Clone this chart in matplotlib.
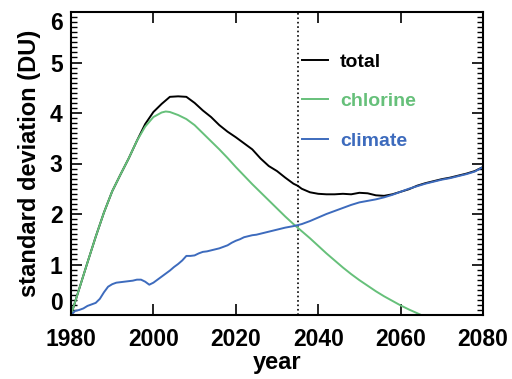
import matplotlib
matplotlib.use('Agg')
import matplotlib.pyplot as plt
from matplotlib.ticker import MultipleLocator
import numpy as np

plt.rcParams['font.family'] = ['Liberation Sans', 'DejaVu Sans']
plt.rcParams['font.weight'] = 'bold'

# chlorine contribution (also the total before ~1997)
chl_year = [1980, 1982, 1984, 1986, 1988, 1990, 1992, 1994, 1996, 1998,
            2000, 2002, 2003, 2004, 2006, 2008, 2010, 2012, 2014, 2016,
            2018, 2020, 2022, 2024, 2026, 2028, 2030, 2032, 2034, 2036,
            2038, 2040, 2042, 2044, 2046, 2048, 2050, 2052, 2054, 2056,
            2058, 2060, 2062, 2065]
chl_val = [0.0, 0.52, 1.04, 1.55, 2.03, 2.45, 2.78, 3.10, 3.45, 3.73,
           3.92, 4.01, 4.03, 4.02, 3.96, 3.88, 3.76, 3.60, 3.44, 3.28,
           3.11, 2.93, 2.76, 2.59, 2.43, 2.27, 2.11, 1.95, 1.80, 1.66,
           1.52, 1.37, 1.22, 1.08, 0.94, 0.81, 0.69, 0.58, 0.47, 0.37,
           0.28, 0.19, 0.11, 0.0]

# climate contribution
clim_year = [1980, 1981, 1982, 1983, 1984, 1985, 1986, 1987, 1988, 1989,
             1990, 1991, 1992, 1993, 1994, 1995, 1996, 1997, 1998, 1999,
             2000, 2001, 2002, 2003, 2004, 2005, 2006, 2007, 2008, 2009,
             2010, 2011, 2012, 2013, 2014, 2015, 2016, 2017, 2018, 2019,
             2020, 2021, 2022, 2023, 2024, 2025, 2026, 2028, 2030, 2032,
             2034, 2035, 2036, 2038, 2040, 2042, 2044, 2046, 2048, 2050,
             2052, 2054, 2056, 2058, 2060, 2062, 2064, 2066, 2068, 2070,
             2072, 2074, 2076, 2078, 2080]
clim_val = [0.0, 0.08, 0.10, 0.13, 0.18, 0.21, 0.24, 0.32, 0.45, 0.56,
            0.61, 0.64, 0.65, 0.66, 0.67, 0.68, 0.70, 0.70, 0.66, 0.60,
            0.64, 0.70, 0.76, 0.82, 0.88, 0.95, 1.01, 1.08, 1.17, 1.17,
            1.18, 1.22, 1.25, 1.26, 1.28, 1.30, 1.32, 1.35, 1.38, 1.43,
            1.47, 1.50, 1.54, 1.56, 1.58, 1.59, 1.61, 1.65, 1.69, 1.73,
            1.76, 1.78, 1.80, 1.86, 1.93, 2.00, 2.06, 2.12, 2.18, 2.23,
            2.26, 2.29, 2.33, 2.38, 2.44, 2.50, 2.55, 2.60, 2.64, 2.68,
            2.71, 2.75, 2.79, 2.84, 2.93]

# total
tot_year = [1980, 1982, 1984, 1986, 1988, 1990, 1992, 1994, 1996, 1998,
            2000, 2002, 2004, 2006, 2008, 2010, 2012, 2014, 2016, 2018,
            2020, 2022, 2024, 2026, 2028, 2030, 2032, 2034, 2035, 2036,
            2038, 2040, 2042, 2044, 2046, 2048, 2050, 2052, 2054, 2056,
            2058, 2060, 2062, 2064, 2066, 2068, 2070, 2072, 2074, 2076,
            2078, 2080]
tot_val = [0.0, 0.52, 1.04, 1.55, 2.03, 2.45, 2.78, 3.10, 3.45, 3.78,
           4.02, 4.18, 4.32, 4.33, 4.32, 4.20, 4.05, 3.92, 3.76, 3.63,
           3.52, 3.40, 3.28, 3.10, 2.95, 2.85, 2.72, 2.60, 2.56, 2.50,
           2.43, 2.40, 2.39, 2.39, 2.40, 2.39, 2.42, 2.41, 2.37, 2.36,
           2.39, 2.44, 2.49, 2.56, 2.61, 2.65, 2.69, 2.72, 2.76, 2.80,
           2.85, 2.93]

ref_year = 2035
green = '#66c07a'
blue = '#3d6bbd'

fig = plt.figure(figsize=(5.12, 3.79), dpi=100)
ax = fig.add_axes([71/512, 1-315/379, 412/512, 303/379])

ax.axvline(ref_year, color='black', linestyle=':', lw=1.2)
ax.plot(tot_year, tot_val, color='black', lw=1.4, label='total')
ax.plot(chl_year, chl_val, color=green, lw=1.4, label='chlorine')
ax.plot(clim_year, clim_val, color=blue, lw=1.4, label='climate')

ax.set_xlim(1980, 2080)
ax.set_ylim(0, 6)
ax.set_xticks([1980, 2000, 2020, 2040, 2060, 2080])
ax.set_yticks(range(7))
ax.yaxis.set_minor_locator(MultipleLocator(0.1))
ax.tick_params(axis='both', which='major', direction='in', length=8,
               width=1.2, top=True, right=True, labelsize=16.5, pad=6)
ax.tick_params(axis='x', which='major', pad=9)
ax.tick_params(axis='y', which='minor', direction='in', length=4,
               width=1.0, left=True, right=True)
for s in ax.spines.values():
    s.set_linewidth(1.5)
ylabs = ax.get_yticklabels()
ylabs[0].set_va('bottom')
ylabs[-1].set_va('top')

ax.set_xlabel('year', fontsize=17, fontweight='bold', labelpad=0)
ax.set_ylabel('standard deviation (DU)', fontsize=17, fontweight='bold',
              labelpad=6)

leg = ax.legend(loc='upper left', bbox_to_anchor=(0.518, 0.922),
                frameon=False, handlelength=1.35, handletextpad=0.6,
                labelspacing=1.12, labelcolor='linecolor',
                prop={'size': 14, 'weight': 'bold'})

fig.savefig('out.png', dpi=100)
